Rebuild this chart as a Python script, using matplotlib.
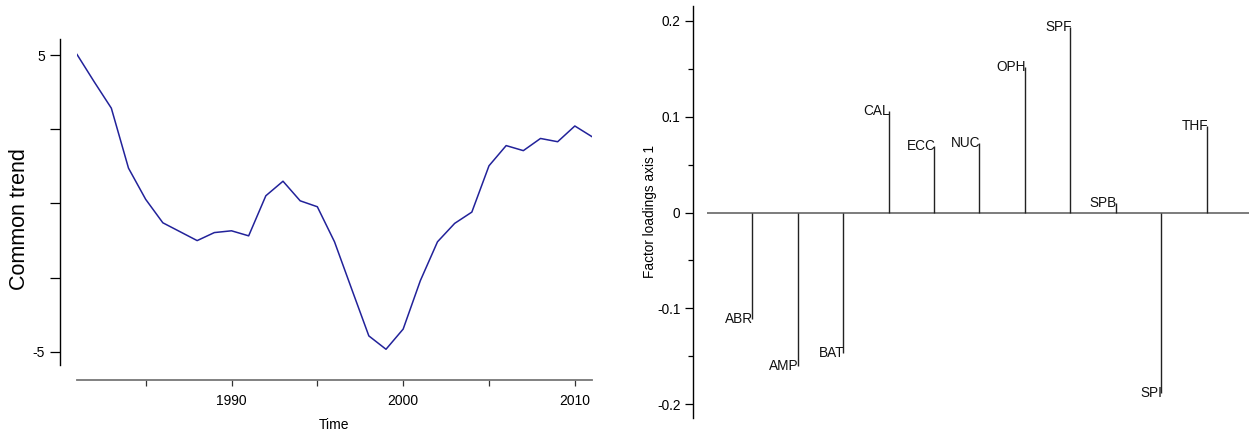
import matplotlib
matplotlib.use("Agg")
import matplotlib.pyplot as plt
import numpy as np

plt.rcParams['font.family'] = ['Liberation Sans', 'DejaVu Sans']

# ---- data ----
years = list(range(1981, 2012))
trend = [5.02, 4.10, 3.21, 1.19, 0.14, -0.65, -0.95, -1.25, -0.98, -0.92,
         -1.09, 0.26, 0.75, 0.09, -0.11, -1.29, -2.88, -4.46, -4.91, -4.23,
         -2.60, -1.29, -0.67, -0.29, 1.27, 1.95, 1.78, 2.19, 2.08, 2.61, 2.25]

species = ['ABR', 'AMP', 'BAT', 'CAL', 'ECC', 'NUC', 'OPH', 'SPF', 'SPB', 'SPI', 'THF']
loadings = [-0.111, -0.160, -0.146, 0.106, 0.069, 0.073, 0.152, 0.193, 0.010, -0.188, 0.090]

W, H = 1249, 434
fig = plt.figure(figsize=(W / 100, H / 100), dpi=100)

def px_box(l, t, r, b):
    return [l / W, (H - b) / H, (r - l) / W, (b - t) / H]

PT = 72 / 100  # points per pixel

# ---- left panel ----
ax1 = fig.add_axes(px_box(77, 39, 592, 365))
ax1.plot(years, trend, color='#22229a', lw=1.1)
ax1.set_xlim(1981, 2011)
ax1.set_ylim(-5.44, 5.54)
for s in ['top', 'right']:
    ax1.spines[s].set_visible(False)
ax1.spines['left'].set_position(('outward', 17 * PT))
ax1.spines['bottom'].set_position(('outward', 15 * PT))
ax1.spines['left'].set_color('black')
ax1.spines['left'].set_linewidth(1.0)
ax1.spines['bottom'].set_color('#777777')
ax1.spines['bottom'].set_linewidth(1.3)
ax1.set_yticks([-5, -2.5, 0, 2.5, 5])
ax1.set_yticklabels(['-5', '', '', '', '5'])
ax1.set_xticks([1985, 1990, 1995, 2000, 2005, 2010])
ax1.set_xticklabels(['', '1990', '', '2000', '', '2010'])
ax1.tick_params(axis='y', length=10 * PT, width=0.9, pad=5 * PT, labelsize=10, colors='black')
ax1.tick_params(axis='x', length=6 * PT, width=0.9, pad=8 * PT, labelsize=10, color='#333333')
fig.text(20 / W, (H - 219) / H, 'Common trend', rotation=90, ha='center', va='center', fontsize=15.5)
fig.text(334 / W, (H - 425) / H, 'Time', ha='center', va='center', fontsize=10)

# ---- right panel ----
ax2 = fig.add_axes(px_box(706.7, 6, 1249, 417.7))
xpos = np.arange(1, len(species) + 1)
ax2.set_xlim(0, 11.93)
ax2.set_ylim(-0.214, 0.2154)
ax2.axhline(0, color='#666666', lw=1.2, zorder=1)
ax2.vlines(xpos, 0, loadings, color='#222222', lw=1.0, zorder=2)
for x, v, name in zip(xpos, loadings, species):
    ax2.text(x + 0.03, v, name, ha='right', va='center', fontsize=9.8, color='#111111')
for s in ['top', 'right', 'bottom']:
    ax2.spines[s].set_visible(False)
ax2.spines['left'].set_position(('outward', 13.4 * PT))
ax2.spines['left'].set_linewidth(1.0)
ax2.set_xticks([])
ax2.set_yticks([-0.2, -0.1, 0, 0.1, 0.2])
ax2.set_yticklabels(['-0.2', '-0.1', '0', '0.1', '0.2'])
ax2.set_yticks([-0.15, -0.05, 0.05, 0.15], minor=True)
ax2.tick_params(axis='y', which='major', length=8 * PT, width=0.9, pad=5 * PT, labelsize=9.8)
ax2.tick_params(axis='y', which='minor', length=5 * PT, width=0.9)
fig.text(650 / W, (H - 212) / H, 'Factor loadings axis 1', rotation=90, ha='center', va='center', fontsize=9.8)

fig.savefig('out.png', dpi=100)
